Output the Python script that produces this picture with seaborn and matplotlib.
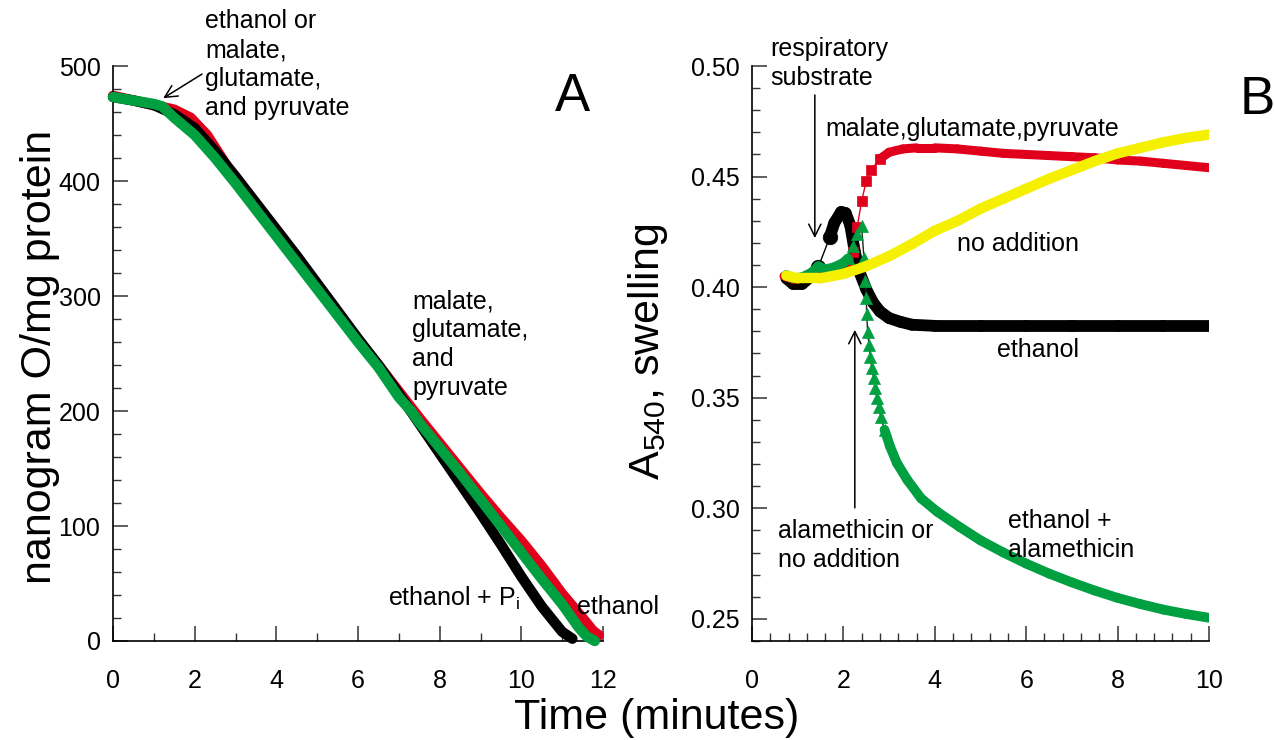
import numpy as np
import pandas as pd
import matplotlib
matplotlib.use("Agg")
import matplotlib.pyplot as plt
import seaborn as sns
from matplotlib.ticker import MultipleLocator, FormatStrFormatter

# ---------------- data: panel A (oxygen consumption) ----------------
a_eth_pi_t = [0, 0.5, 1.0, 1.5, 2.0, 2.5, 3.0, 3.5, 4.0, 4.5, 5.0, 5.5, 6.0, 6.5, 7.0, 7.5,
              8.0, 8.5, 9.0, 9.5, 10.0, 10.5, 11.0, 11.25]
a_eth_pi_y = [473, 470, 466, 458, 446, 426, 404, 381, 358, 335, 311, 287, 263, 240, 215, 189,
              163, 137, 111, 84, 56, 30, 8, 2]

a_eth_t = [0, 0.5, 1.0, 1.5, 1.9, 2.3, 2.7, 3.0, 3.5, 4.0, 4.5, 5.0, 5.5, 6.0, 6.5, 7.0, 7.5,
           8.0, 8.5, 9.0, 9.5, 10.0, 10.5, 11.0, 11.5, 11.75, 11.9]
a_eth_y = [474, 470, 466, 462, 455, 440, 418, 401, 378, 354, 331, 308, 285, 262, 240, 217, 194,
           172, 150, 128, 107, 87, 65, 41, 20, 9, 5]

a_mgp_t = [0, 0.5, 1.0, 1.2, 1.5, 2.0, 2.5, 3.0, 3.5, 4.0, 4.5, 5.0, 5.5, 6.0, 6.5, 7.0, 7.3,
           7.5, 8.0, 8.5, 9.0, 9.5, 10.0, 10.5, 11.0, 11.4, 11.6, 11.8]
a_mgp_y = [473, 470, 467, 465, 455, 440, 420, 398, 375, 352, 329, 306, 283, 260, 238, 212, 200,
           190, 168, 146, 123, 100, 77, 54, 32, 12, 4, 0]

# ---------------- data: panel B (swelling, A540) ----------------
b_mgp_t = [0.7, 0.9, 1.1, 1.3, 1.5, 1.7, 1.9, 2.1, 2.2, 2.3, 2.4, 2.5, 2.6, 2.8, 3.0, 3.3, 3.6,
           4.0, 4.5, 5.0, 5.5, 6.0, 6.5, 7.0, 7.5, 8.0, 8.5, 9.0, 9.5, 10.0]
b_mgp_y = [0.405, 0.4035, 0.404, 0.406, 0.4075, 0.408, 0.409, 0.411, 0.416, 0.427, 0.439, 0.448,
           0.453, 0.458, 0.461, 0.4625, 0.463, 0.463, 0.4625, 0.4615, 0.4605, 0.460, 0.4595,
           0.459, 0.4585, 0.4575, 0.457, 0.456, 0.455, 0.454]

b_eth_t = [0.75, 0.9, 1.1, 1.3, 1.45, 1.7, 1.8, 1.95, 2.05, 2.15, 2.25, 2.35, 2.5, 2.65, 2.8,
           3.0, 3.25, 3.5, 4.0, 5.0, 6.0, 7.0, 8.0, 9.0, 10.0]
b_eth_y = [0.404, 0.4015, 0.4015, 0.405, 0.409, 0.4225, 0.429, 0.434, 0.4335, 0.428, 0.416,
           0.407, 0.399, 0.393, 0.389, 0.386, 0.3843, 0.383, 0.3825, 0.3825, 0.3825, 0.3825,
           0.3825, 0.3825, 0.3825]

b_ala_t = [0.75, 0.9, 1.1, 1.3, 1.45, 1.6, 1.8, 2.0, 2.1, 2.2, 2.3, 2.4, 2.45, 2.48, 2.5, 2.51,
           2.53, 2.56, 2.59, 2.62, 2.66, 2.7, 2.73, 2.77, 2.82, 2.9, 3.02, 3.17, 3.4, 3.7, 4.05,
           4.55, 5.0, 5.5, 6.0, 6.5, 7.0, 7.5, 8.0, 8.5, 9.0, 9.5, 10.0]
b_ala_y = [0.4055, 0.404, 0.4045, 0.4065, 0.4095, 0.408, 0.409, 0.411, 0.413, 0.4185, 0.424,
           0.4275, 0.413, 0.403, 0.395, 0.388, 0.3797, 0.3739, 0.3685, 0.3635, 0.359, 0.3545,
           0.350, 0.346, 0.3413, 0.3355, 0.328, 0.3205, 0.3128, 0.3045, 0.2985, 0.2915, 0.2855,
           0.2800, 0.2750, 0.2705, 0.2665, 0.2628, 0.2595, 0.2567, 0.2542, 0.2522, 0.2505]

b_none_t = [0.75, 1.0, 1.5, 2.0, 2.5, 3.0, 3.5, 4.0, 4.5, 5.0, 5.5, 6.0, 6.5, 7.0, 7.5, 8.0,
            8.5, 9.0, 9.5, 10.0]
b_none_y = [0.4052, 0.404, 0.404, 0.406, 0.4095, 0.414, 0.4195, 0.4255, 0.430, 0.4355, 0.440,
            0.4445, 0.449, 0.453, 0.457, 0.4605, 0.463, 0.4655, 0.4675, 0.469]

BLACK = "#000000"
RED = "#e0001b"
GREEN = "#00a040"
YELLOW = "#f5f000"

W, H = 1274, 740


def fx(x):
    return x / W


def fy(y):
    return 1 - y / H


sns.set_theme(style="white")
plt.rcParams["font.family"] = ["Liberation Sans", "DejaVu Sans"]
plt.rcParams["mathtext.default"] = "regular"
for key in ("text.color", "axes.labelcolor", "xtick.color", "ytick.color"):
    plt.rcParams[key] = "black"

fig = plt.figure(figsize=(W / 100, H / 100), dpi=100)
axA = fig.add_axes([fx(113), 1 - 641 / H, 490 / W, 575 / H])
axB = fig.add_axes([fx(752), 1 - 641 / H, 457 / W, 575 / H])


def style_axis(ax):
    for s in ("top", "right"):
        ax.spines[s].set_visible(False)
    for s in ("left", "bottom"):
        ax.spines[s].set_color("black")
        ax.spines[s].set_linewidth(1.2)
    ax.tick_params(which="major", direction="in", length=11, width=1.1, color="#333333",
                   labelsize=18, labelcolor="black", left=True, bottom=True)
    ax.tick_params(which="minor", direction="in", length=5.5, width=1.0, color="#333333",
                   left=True, bottom=True)
    ax.tick_params(axis="x", which="major", pad=20)
    ax.tick_params(axis="y", which="major", pad=9)
    ax.set_xlabel("")
    ax.set_ylabel("")
    ax.grid(False)


def thick(ax, t, y, color, lw, z):
    df = pd.DataFrame({"t": t, "y": y})
    sns.lineplot(data=df, x="t", y="y", ax=ax, color=color, lw=lw, sort=False, estimator=None,
                 solid_capstyle="round", solid_joinstyle="round", zorder=z, clip_on=False)


# ---------------- panel A ----------------
thick(axA, a_eth_t, a_eth_y, RED, 7.5, 2)
thick(axA, a_eth_pi_t, a_eth_pi_y, BLACK, 7.5, 3)
thick(axA, a_mgp_t, a_mgp_y, GREEN, 7.5, 4)
axA.set_xlim(0, 12)
axA.set_ylim(0, 500)
axA.xaxis.set_major_locator(MultipleLocator(2))
axA.xaxis.set_minor_locator(MultipleLocator(1))
axA.yaxis.set_major_locator(MultipleLocator(100))
axA.yaxis.set_minor_locator(MultipleLocator(20))
style_axis(axA)
axA.annotate("", xy=(1.23, 472), xytext=(2.18, 493),
             arrowprops=dict(arrowstyle="->", lw=1.1, color="black", mutation_scale=22,
                             shrinkA=0, shrinkB=0))


# ---------------- panel B ----------------
def series_b(ax, t, y, color, marker, ms, band_lw, gaps, thin_color, z):
    t = np.asarray(t, float)
    y = np.asarray(y, float)
    df = pd.DataFrame({"t": t, "y": y})
    # thin connecting line through all samples
    sns.lineplot(data=df, x="t", y="y", ax=ax, color=thin_color, lw=1.0, sort=False,
                 estimator=None, zorder=z)
    # links between consecutive samples: thin inside gap windows, band elsewhere
    thin_link = np.array([any(t[i - 1] >= lo and t[i] <= hi for lo, hi in gaps)
                          for i in range(1, len(t))], dtype=bool)
    rows = []
    for i in range(1, len(t)):
        if not thin_link[i - 1]:
            rows.append((i, t[i - 1], y[i - 1]))
            rows.append((i, t[i], y[i]))
    band = pd.DataFrame(rows, columns=["seg", "t", "y"])
    sns.lineplot(data=band, x="t", y="y", units="seg", ax=ax, color=color, lw=band_lw,
                 sort=False, estimator=None, solid_capstyle="round", zorder=z + 0.1)
    # individual markers where samples are spread out
    show = np.zeros(len(t), dtype=bool)
    for i in range(1, len(t)):
        if thin_link[i - 1]:
            show[i - 1] = show[i] = True
    if marker is not None and show.any():
        sns.scatterplot(data=df[show], x="t", y="y", ax=ax, marker=marker, s=ms, color=color,
                        edgecolor=color, linewidth=0.5, zorder=z + 0.2, legend=False)


series_b(axB, b_eth_t, b_eth_y, BLACK, "o", 110, 8.5, [(1.45, 1.7)], BLACK, 2)
series_b(axB, b_mgp_t, b_mgp_y, RED, "s", 55, 6.5, [(2.1, 2.8)], RED, 3)
series_b(axB, b_ala_t, b_ala_y, GREEN, "^", 75, 7.0, [(2.1, 2.9)], "#222222", 4)
series_b(axB, b_none_t, b_none_y, YELLOW, None, 0, 7.5, [], YELLOW, 5)

axB.set_xlim(0, 10)
axB.set_ylim(0.24, 0.50)
axB.xaxis.set_major_locator(MultipleLocator(2))
axB.xaxis.set_minor_locator(MultipleLocator(0.4))
axB.yaxis.set_major_locator(MultipleLocator(0.05))
axB.yaxis.set_minor_locator(MultipleLocator(0.01))
axB.yaxis.set_major_formatter(FormatStrFormatter("%.2f"))
style_axis(axB)
axB.annotate("", xy=(1.375, 0.4222), xytext=(1.375, 0.4869),
             arrowprops=dict(arrowstyle="->", lw=1.1, color="black", mutation_scale=22,
                             shrinkA=0, shrinkB=0))
axB.annotate("", xy=(2.25, 0.3807), xytext=(2.25, 0.3002),
             arrowprops=dict(arrowstyle="->", lw=1.1, color="black", mutation_scale=22,
                             shrinkA=0, shrinkB=0))

# ---------------- text ----------------
TXT = 18
LS = 1.27
fig.text(fx(205), fy(9), "ethanol or\nmalate,\nglutamate,\nand pyruvate", fontsize=TXT,
         ha="left", va="top", linespacing=LS)
fig.text(fx(412), fy(289), "malate,\nglutamate,\nand\npyruvate", fontsize=TXT,
         ha="left", va="top", linespacing=LS)
fig.text(fx(388), fy(606), "ethanol + P$_i$", fontsize=TXT, ha="left", va="baseline")
fig.text(fx(577), fy(614), "ethanol", fontsize=TXT, ha="left", va="baseline")
fig.text(fx(572), fy(97), "A", fontsize=38, ha="center", va="center")

fig.text(fx(770), fy(37), "respiratory\nsubstrate", fontsize=TXT, ha="left", va="top",
         linespacing=LS)
fig.text(fx(825), fy(136), "malate,glutamate,pyruvate", fontsize=TXT, ha="left", va="baseline")
fig.text(fx(957), fy(251), "no addition", fontsize=TXT, ha="left", va="baseline")
fig.text(fx(997), fy(357), "ethanol", fontsize=TXT, ha="left", va="baseline")
fig.text(fx(778), fy(519), "alamethicin or\nno addition", fontsize=TXT, ha="left", va="top",
         linespacing=LS)
fig.text(fx(1008), fy(509), "ethanol +\nalamethicin", fontsize=TXT, ha="left", va="top",
         linespacing=LS)
fig.text(fx(1257), fy(100), "B", fontsize=38, ha="center", va="center")

fig.text(fx(40), fy(357), "nanogram O/mg protein", fontsize=31, rotation=90,
         ha="center", va="center")
fig.text(fx(648), fy(352), "A$_{540}$, swelling", fontsize=31, rotation=90,
         ha="center", va="center")
fig.text(fx(657), fy(718), "Time (minutes)", fontsize=31, ha="center", va="center")

fig.savefig("out.png", dpi=100, facecolor="white")
